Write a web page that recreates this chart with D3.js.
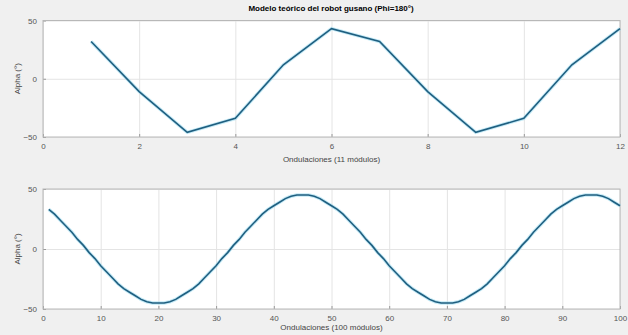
<!DOCTYPE html>
<html>
<head>
<meta charset="utf-8">
<script src="https://cdn.jsdelivr.net/npm/d3@7"></script>
<style>
  body { margin: 0; background: #f0f0f0; }
  svg { display: block; font-family: "Liberation Sans", Arial, sans-serif; }
  .tick text { fill: #555; font-size: 8px; }
  .grid line { stroke: #e4e4e4; }
</style>
</head>
<body>
<div id="chart"></div>
<script>
var width = 628, height = 335;

// top plot: 11 modules
var topX = [1, 2, 3, 4, 5, 6, 7, 8, 9, 10, 11, 12];
var topAlpha = [32, -11, -46, -34, 12, 43, 32, -11, -46, -34, 12, 43];
var topXTicks = [0, 2, 4, 6, 8, 10, 12];

// bottom plot: 100 modules
var botX = d3.range(1, 101);
var botAlpha = [
  33, 29, 24, 19, 14, 8, 3, -3, -8, -14,
  -19, -24, -29, -33, -36, -39, -42, -44, -45, -45,
  -45, -44, -42, -39, -36, -33, -29, -24, -19, -14,
  -8, -3, 3, 8, 14, 19, 24, 29, 33, 36,
  39, 42, 44, 45, 45, 45, 44, 42, 39, 36,
  33, 29, 24, 19, 14, 8, 3, -3, -8, -14,
  -19, -24, -29, -33, -36, -39, -42, -44, -45, -45,
  -45, -44, -42, -39, -36, -33, -29, -24, -19, -14,
  -8, -3, 3, 8, 14, 19, 24, 29, 33, 36,
  39, 42, 44, 45, 45, 45, 44, 42, 39, 36
];
var botXTicks = [0, 10, 20, 30, 40, 50, 60, 70, 80, 90, 100];
var yTicks = [-50, 0, 50];

var svg = d3.select("#chart").append("svg")
  .attr("width", width)
  .attr("height", height);

svg.append("text")
  .attr("x", 331).attr("y", 11)
  .attr("text-anchor", "middle")
  .style("font-size", "8px")
  .style("font-weight", "bold")
  .text("Modelo teórico del robot gusano (Phi=180°)");

function drawPanel(xs, ys, xDomain, xTicks, box, xlabel, labelGap) {
  var x = d3.scaleLinear().domain(xDomain).range([box.left, box.right]);
  var y = d3.scaleLinear().domain([-50, 50]).range([box.bottom, box.top]);
  var g = svg.append("g");

  g.append("rect")
    .attr("x", box.left).attr("y", box.top)
    .attr("width", box.right - box.left)
    .attr("height", box.bottom - box.top)
    .attr("fill", "#fff");

  // grid
  g.append("g").attr("class", "grid")
    .attr("transform", "translate(0," + box.bottom + ")")
    .call(d3.axisBottom(x).tickValues(xTicks).tickSize(-(box.bottom - box.top)).tickFormat(""))
    .call(function(s) { s.select(".domain").remove(); });
  g.append("g").attr("class", "grid")
    .attr("transform", "translate(" + box.left + ",0)")
    .call(d3.axisLeft(y).tickValues(yTicks).tickSize(-(box.right - box.left)).tickFormat(""))
    .call(function(s) { s.select(".domain").remove(); });

  var xa = g.append("g")
    .attr("transform", "translate(0," + box.bottom + ")")
    .call(d3.axisBottom(x).tickValues(xTicks).tickSize(-3).tickPadding(6));
  var ya = g.append("g")
    .attr("transform", "translate(" + box.left + ",0)")
    .call(d3.axisLeft(y).tickValues(yTicks).tickSize(-3).tickPadding(6));
  [xa, ya].forEach(function(a) {
    a.selectAll("line").attr("stroke", "#9a9a9a");
    a.select(".domain").remove();
  });

  g.append("rect")
    .attr("x", box.left).attr("y", box.top)
    .attr("width", box.right - box.left)
    .attr("height", box.bottom - box.top)
    .attr("fill", "none")
    .attr("stroke", "#b8b8b8");

  var line = d3.line()
    .x(function(d, i) { return x(xs[i]); })
    .y(function(d) { return y(d); });

  g.append("path").datum(ys)
    .attr("d", line)
    .attr("fill", "none")
    .attr("stroke", "#9fdcf0")
    .attr("stroke-width", 3.5)
    .attr("stroke-opacity", 0.6);
  g.append("path").datum(ys)
    .attr("d", line)
    .attr("fill", "none")
    .attr("stroke", "#1f5f80")
    .attr("stroke-width", 1.6);

  g.append("text")
    .attr("x", (box.left + box.right) / 2)
    .attr("y", box.bottom + labelGap)
    .attr("text-anchor", "middle")
    .style("font-size", "8px")
    .style("fill", "#444")
    .text(xlabel);

  g.append("text")
    .attr("transform", "translate(20," + ((box.top + box.bottom) / 2) + ") rotate(-90)")
    .attr("text-anchor", "middle")
    .style("font-size", "8px")
    .style("fill", "#444")
    .text("Alpha (°)");
}

drawPanel(topX, topAlpha, [0, 12], topXTicks,
  { left: 43, right: 620, top: 20.5, bottom: 137 }, "Ondulaciones (11 módulos)", 25);
drawPanel(botX, botAlpha, [0, 100], botXTicks,
  { left: 43, right: 620, top: 189, bottom: 309 }, "Ondulaciones (100 módulos)", 21);
</script>
</body>
</html>
